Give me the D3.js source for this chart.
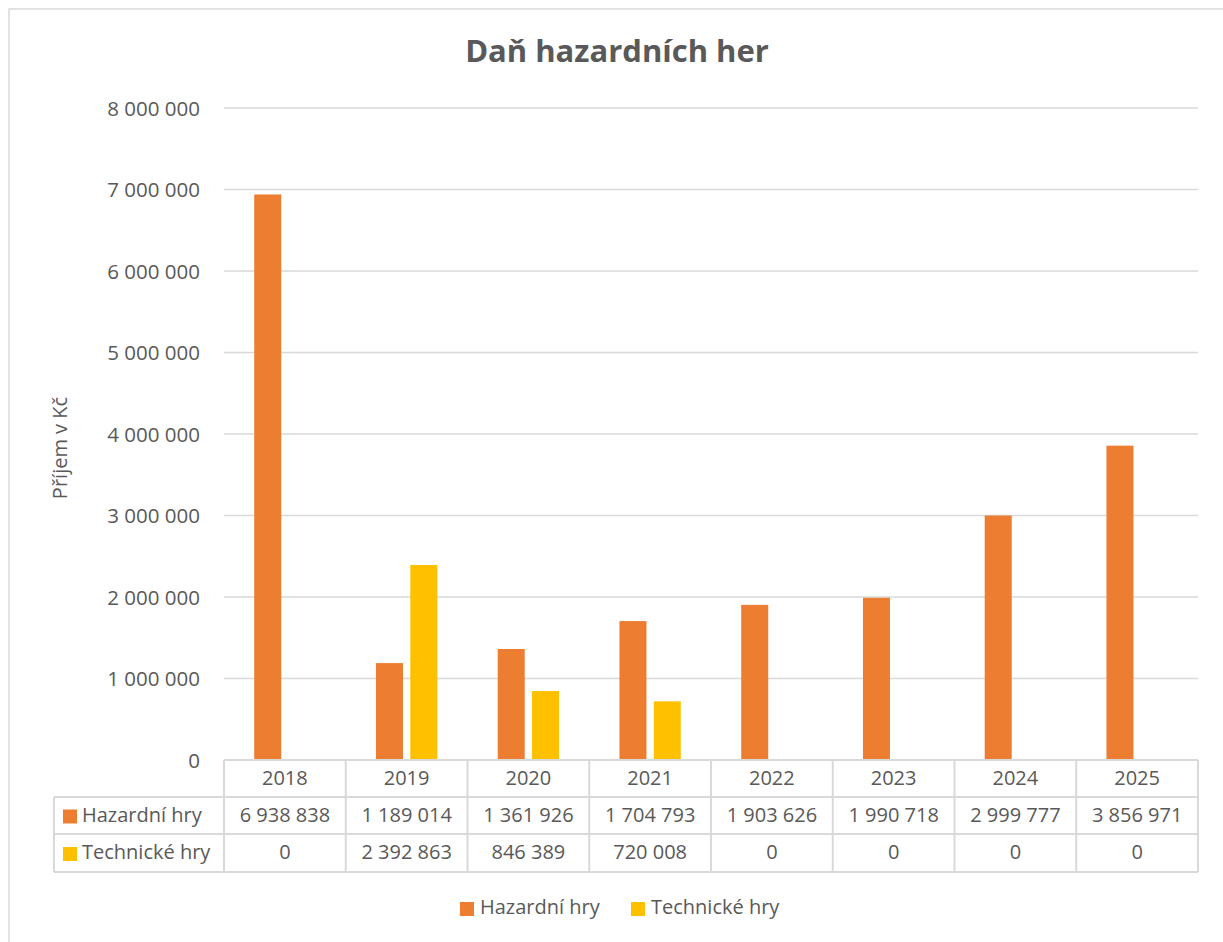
<!DOCTYPE html>
<html>
<head>
<meta charset="utf-8">
<script src="https://cdn.jsdelivr.net/npm/d3@7"></script>
<style>
  body { margin: 0; background: #fff; }
  svg text { font-family: "Open Sans", sans-serif; fill: #595959; }
</style>
</head>
<body>
<svg id="chart" width="1223" height="942"></svg>
<script>
const years = ["2018", "2019", "2020", "2021", "2022", "2023", "2024", "2025"];
const seriesNames = ["Hazardní hry", "Technické hry"];
const hazardni = [6938838, 1189014, 1361926, 1704793, 1903626, 1990718, 2999777, 3856971];
const technicke = [0, 2392863, 846389, 720008, 0, 0, 0, 0];
const colors = ["#ED7D31", "#FFC000"];
const yTicks = [0, 1000000, 2000000, 3000000, 4000000, 5000000, 6000000, 7000000, 8000000];

const series = [hazardni, technicke];
const svg = d3.select("#chart");
const fmt = v => d3.format(",")(v).replace(/,/g, " ");
const fs = 20;

// outer chart frame (cropped on right/bottom like the screenshot)
svg.append("rect")
  .attr("x", 9).attr("y", 9)
  .attr("width", 1230).attr("height", 950)
  .attr("fill", "#fff")
  .attr("stroke", "#d9d9d9").attr("stroke-width", 1.5);

const plotLeft = 224, plotRight = 1198, plotTop = 108, plotBottom = 760;

const x = d3.scaleBand().domain(years).range([plotLeft, plotRight]);
const y = d3.scaleLinear().domain([0, 8000000]).range([plotBottom, plotTop]);

// gridlines
svg.append("g")
  .selectAll("line")
  .data(yTicks)
  .join("line")
  .attr("x1", plotLeft).attr("x2", plotRight)
  .attr("y1", d => y(d)).attr("y2", d => y(d))
  .attr("stroke", "#d9d9d9").attr("stroke-width", 1.3);

// y axis labels
const yAxis = svg.append("g")
  .attr("transform", `translate(${plotLeft - 24},0)`)
  .call(d3.axisLeft(y).tickValues(yTicks).tickFormat(fmt).tickSize(0).tickPadding(0));
yAxis.select(".domain").remove();
yAxis.selectAll("text")
  .attr("font-size", 20.5)
  .attr("dy", "0.35em")
  .style("font-family", "'Open Sans', sans-serif")
  .attr("fill", "#595959");

// bars
const sub = d3.scaleBand().domain([0, 1]).range([0, x.bandwidth()]).paddingInner(0.213).paddingOuter(0.88);
series.forEach((vals, si) => {
  svg.append("g")
    .selectAll("rect")
    .data(vals.map((v, i) => ({ year: years[i], v })))
    .join("rect")
    .attr("x", d => x(d.year) + sub(si))
    .attr("y", d => y(d.v))
    .attr("width", sub.bandwidth())
    .attr("height", d => y(0) - y(d.v))
    .attr("fill", colors[si]);
});

// title
svg.append("text")
  .attr("x", 617).attr("y", 54)
  .attr("text-anchor", "middle")
  .attr("dominant-baseline", "middle")
  .attr("font-size", 31)
  .attr("font-weight", "bold")
  .text("Daň hazardních her");

// y axis title
svg.append("text")
  .attr("transform", `translate(62,448) rotate(-90)`)
  .attr("text-anchor", "middle")
  .attr("dominant-baseline", "middle")
  .attr("font-size", fs)
  .text("Příjem v Kč");

// data table
const rowY = [760, 797, 834, 872];
const tableLeft = 54;
const tg = svg.append("g");
const ln = (x1, y1, x2, y2) => tg.append("line")
  .attr("x1", x1).attr("y1", y1).attr("x2", x2).attr("y2", y2)
  .attr("stroke", "#d9d9d9").attr("stroke-width", 2);
// horizontal lines
ln(plotLeft, rowY[0], plotRight, rowY[0]);
ln(tableLeft, rowY[1], plotRight, rowY[1]);
ln(tableLeft, rowY[2], plotRight, rowY[2]);
ln(tableLeft, rowY[3], plotRight, rowY[3]);
// vertical lines
ln(tableLeft, rowY[1], tableLeft, rowY[3]);
years.forEach(yr => ln(x(yr), rowY[0], x(yr), rowY[3]));
ln(plotRight, rowY[0], plotRight, rowY[3]);

tg.selectAll("text.year")
  .data(years)
  .join("text")
  .attr("class", "year")
  .attr("x", d => x(d) + x.bandwidth() / 2)
  .attr("y", (rowY[0] + rowY[1]) / 2 + 1)
  .attr("text-anchor", "middle")
  .attr("dominant-baseline", "middle")
  .attr("font-size", fs)
  .text(d => d);

series.forEach((vals, si) => {
  const cy = (rowY[si + 1] + rowY[si + 2]) / 2 + 1;
  tg.append("rect")
    .attr("x", 63).attr("y", cy - 7)
    .attr("width", 14).attr("height", 14)
    .attr("fill", colors[si]);
  tg.append("text")
    .attr("x", 82).attr("y", cy)
    .attr("dominant-baseline", "middle")
    .attr("font-size", fs)
    .text(seriesNames[si]);
  tg.selectAll(null)
    .data(vals)
    .join("text")
    .attr("x", (d, i) => x(years[i]) + x.bandwidth() / 2)
    .attr("y", cy)
    .attr("text-anchor", "middle")
    .attr("dominant-baseline", "middle")
    .attr("font-size", fs)
    .text(d => fmt(d));
});

// legend
const legendX = [460, 631];
seriesNames.forEach((name, i) => {
  svg.append("rect")
    .attr("x", legendX[i]).attr("y", 902)
    .attr("width", 14).attr("height", 14)
    .attr("fill", colors[i]);
  svg.append("text")
    .attr("x", legendX[i] + 20).attr("y", 909)
    .attr("dominant-baseline", "middle")
    .attr("font-size", fs)
    .text(name);
});
</script>
</body>
</html>
